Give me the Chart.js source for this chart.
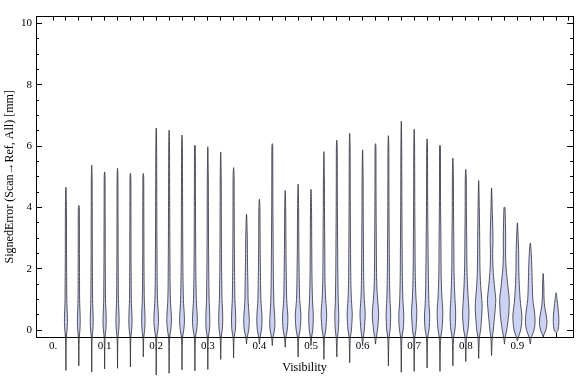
<!DOCTYPE html>
<html>
<head>
<meta charset="utf-8">
<script src="https://cdn.jsdelivr.net/npm/chart.js@4/dist/chart.umd.min.js"></script>
<style>
  body { margin: 0; background: #fff; }
</style>
</head>
<body>
<canvas id="violinChart" width="576" height="377"></canvas>
<script>
// one violin per visibility bin
const visibility = [0.025, 0.05, 0.075, 0.1, 0.125, 0.15, 0.175, 0.2, 0.225, 0.25,
  0.275, 0.3, 0.325, 0.35, 0.375, 0.4, 0.425, 0.45, 0.475, 0.5,
  0.525, 0.55, 0.575, 0.6, 0.625, 0.65, 0.675, 0.7, 0.725, 0.75,
  0.775, 0.8, 0.825, 0.85, 0.875, 0.9, 0.925, 0.95, 0.975];

const errorMax = [4.66, 4.07, 5.38, 5.16, 5.28, 5.12, 5.11, 6.59, 6.52, 6.36,
  6.03, 5.98, 5.81, 5.30, 3.78, 4.27, 6.08, 4.55, 4.76, 4.59,
  5.82, 6.19, 6.42, 5.88, 6.08, 6.34, 6.81, 6.55, 6.24, 6.03,
  5.61, 5.24, 4.88, 4.64, 4.01, 3.50, 2.84, 1.85, 1.22];

const errorMin = [-1.31, -1.16, -1.36, -1.26, -1.24, -1.20, -0.87, -1.46, -1.40, -1.29,
  -1.32, -1.28, -0.95, -0.90, -0.45, -0.45, -0.50, -0.55, -0.87, -0.50,
  -0.95, -0.87, -1.06, -0.50, -0.45, -1.16, -1.37, -1.34, -1.23, -1.34,
  -1.16, -1.02, -0.92, -0.82, -0.45, -0.35, -0.45, -0.20, -0.08];

// density (violin half width) read at these error levels
const densityLevels = [-0.25, 0, 0.25, 0.5, 0.75, 1, 1.5, 2, 2.5, 3, 4, 5, 6];
const density = [
  [0.4, 1.1, 1.5, 1.4, 1.1, 0.9, 0.8, 0.7, 0.6, 0.6, 0.5, 0.4, 0.3],
  [0.4, 1.1, 1.4, 1.3, 1.0, 0.8, 0.7, 0.7, 0.6, 0.6, 0.5, 0.4, 0.3],
  [0.4, 1.1, 1.5, 1.4, 1.1, 0.9, 0.8, 0.7, 0.6, 0.6, 0.5, 0.4, 0.3],
  [0.4, 1.2, 1.6, 1.5, 1.2, 0.9, 0.8, 0.7, 0.6, 0.6, 0.5, 0.4, 0.3],
  [0.4, 1.2, 1.6, 1.5, 1.2, 0.9, 0.8, 0.7, 0.6, 0.6, 0.5, 0.4, 0.3],
  [0.4, 1.2, 1.6, 1.5, 1.2, 0.9, 0.8, 0.7, 0.6, 0.6, 0.5, 0.4, 0.3],
  [0.4, 1.3, 1.7, 1.6, 1.3, 1.0, 0.8, 0.7, 0.6, 0.6, 0.5, 0.4, 0.3],
  [0.5, 1.6, 2.3, 2.2, 1.7, 1.3, 1.0, 0.9, 0.8, 0.7, 0.6, 0.5, 0.4],
  [0.5, 1.6, 2.3, 2.2, 1.7, 1.3, 1.0, 0.9, 0.8, 0.7, 0.6, 0.5, 0.4],
  [0.5, 1.7, 2.4, 2.3, 1.8, 1.4, 1.1, 0.9, 0.8, 0.7, 0.6, 0.5, 0.4],
  [0.5, 1.7, 2.4, 2.3, 1.8, 1.4, 1.1, 0.9, 0.8, 0.7, 0.6, 0.5, 0.4],
  [0.5, 1.6, 2.0, 1.9, 1.6, 1.3, 1.1, 0.9, 0.8, 0.7, 0.6, 0.5, 0.4],
  [0.5, 1.5, 2.0, 2.0, 1.7, 1.3, 1.1, 0.9, 0.8, 0.7, 0.6, 0.5, 0.4],
  [0.5, 1.7, 2.1, 2.0, 1.7, 1.3, 1.1, 0.9, 0.8, 0.7, 0.6, 0.5, 0.4],
  [0.6, 2.2, 2.8, 2.6, 2.0, 1.6, 1.4, 1.1, 0.9, 0.8, 0.5, 0.4, 0.3],
  [0.6, 2.0, 2.6, 2.5, 2.0, 1.5, 1.2, 1.0, 0.8, 0.7, 0.5, 0.4, 0.3],
  [0.6, 2.2, 2.6, 2.3, 1.8, 1.5, 1.2, 1.0, 0.9, 0.8, 0.6, 0.5, 0.4],
  [0.6, 2.0, 2.6, 2.6, 2.0, 1.5, 1.2, 1.0, 0.8, 0.7, 0.5, 0.4, 0.3],
  [0.6, 1.9, 2.6, 2.8, 2.2, 1.6, 1.2, 1.0, 0.8, 0.7, 0.5, 0.4, 0.3],
  [0.6, 1.7, 2.2, 2.3, 1.9, 1.5, 1.1, 0.9, 0.8, 0.7, 0.5, 0.4, 0.3],
  [0.6, 1.8, 2.4, 2.8, 2.4, 1.8, 1.2, 1.0, 0.9, 0.8, 0.6, 0.5, 0.4],
  [0.6, 1.5, 1.9, 2.0, 1.7, 1.4, 1.2, 1.0, 0.9, 0.8, 0.6, 0.5, 0.4],
  [0.6, 1.7, 2.2, 2.6, 2.2, 1.7, 1.2, 1.0, 0.9, 0.8, 0.6, 0.5, 0.4],
  [0.6, 1.7, 2.2, 2.6, 2.3, 1.7, 1.2, 1.0, 0.9, 0.8, 0.6, 0.5, 0.4],
  [0.7, 2.0, 2.7, 3.2, 2.8, 2.1, 1.3, 1.0, 0.9, 0.8, 0.6, 0.5, 0.4],
  [0.6, 1.7, 2.1, 2.3, 2.0, 1.6, 1.2, 1.0, 0.9, 0.8, 0.6, 0.5, 0.4],
  [0.6, 1.8, 2.4, 2.5, 2.0, 1.6, 1.2, 1.0, 0.9, 0.8, 0.6, 0.5, 0.4],
  [0.6, 1.7, 2.2, 2.6, 2.5, 1.9, 1.3, 1.0, 0.9, 0.8, 0.6, 0.5, 0.4],
  [0.6, 1.9, 2.5, 2.6, 2.1, 1.7, 1.4, 1.2, 1.0, 0.9, 0.6, 0.5, 0.4],
  [0.7, 1.9, 2.5, 2.8, 2.7, 2.1, 1.4, 1.1, 1.0, 0.9, 0.6, 0.5, 0.4],
  [0.7, 2.0, 2.6, 2.8, 2.6, 2.1, 1.5, 1.1, 1.0, 0.9, 0.6, 0.5, 0.4],
  [0.7, 2.1, 2.8, 3.2, 3.0, 2.5, 1.7, 1.2, 1.0, 0.9, 0.6, 0.5, 0.4],
  [0.7, 1.9, 2.6, 3.1, 3.5, 3.1, 1.9, 1.3, 1.1, 1.0, 0.6, 0.5, 0.4],
  [0.7, 1.7, 2.4, 3.1, 3.8, 4.2, 2.7, 1.5, 1.1, 1.4, 0.6, 0.4, 0.3],
  [0.7, 2.2, 3.3, 4.2, 4.6, 4.8, 3.2, 1.7, 1.1, 1.2, 0.5, 0.4, 0.3],
  [0.8, 3.3, 4.3, 4.5, 3.6, 2.8, 1.9, 1.4, 1.3, 0.8, 0.5, 0.4, 0.3],
  [0.9, 3.8, 4.8, 4.5, 3.6, 2.6, 2.0, 1.6, 1.0, 0.7, 0.5, 0.4, 0.3],
  [0.6, 2.6, 3.8, 3.0, 1.6, 0.9, 0.6, 0.5, 0.4, 0.3, 0.3, 0.3, 0.3],
  [0.5, 1.9, 2.8, 2.6, 1.9, 1.0, 0.6, 0.5, 0.4, 0.3, 0.3, 0.3, 0.3]
];

const xTickLabels = ['0.', '0.1', '0.2', '0.3', '0.4', '0.5', '0.6', '0.7', '0.8', '0.9'];

const DENSITY_TO_X = 0.00193; // density unit -> visibility units

const datasets = visibility.map((v, i) => {
  const left = [];
  const right = [];
  densityLevels.forEach((lv, j) => {
    if (lv > errorMin[i] && lv < errorMax[i]) {
      const w = density[i][j] * DENSITY_TO_X;
      left.push({x: v - w, y: lv});
      right.unshift({x: v + w, y: lv});
    }
  });
  return {
    data: [{x: v, y: errorMin[i]}, ...left, {x: v, y: errorMax[i]}, ...right, {x: v, y: errorMin[i]}],
    borderColor: 'rgba(45, 45, 55, 0.8)',
    borderWidth: 1,
    borderJoinStyle: 'round',
    backgroundColor: 'rgb(204, 210, 244)',
    fill: 'shape',
    pointRadius: 0,
    tension: 0.3,
    capBezierPoints: false,
    clip: false
  };
});

const keepUnitTicks = s => { s.ticks = s.ticks.filter(t => t.value >= 0 && t.value <= 1); };

Chart.defaults.font.family = "'Liberation Serif', 'DejaVu Serif', serif";
Chart.defaults.color = '#000';

new Chart(document.getElementById('violinChart'), {
  type: 'line',
  data: { datasets: datasets },
  options: {
    responsive: false,
    animation: false,
    events: [],
    layout: { padding: { top: 4, right: 1, bottom: 0, left: 0 } },
    plugins: { legend: { display: false }, tooltip: { enabled: false } },
    scales: {
      x: {
        type: 'linear', position: 'bottom', min: -0.033, max: 1.008,
        afterFit: s => { s.height = 40; },
        afterBuildTicks: keepUnitTicks,
        ticks: {
          stepSize: 0.025, autoSkip: false, maxRotation: 0, includeBounds: false,
          padding: 7, font: { size: 11 },
          callback: v => {
            const n = Math.round(v * 1000);
            return n % 100 === 0 ? (xTickLabels[n / 100] || '') : '';
          }
        },
        grid: {
          drawOnChartArea: false, tickLength: -4,
          color: ctx => (ctx.tick && (ctx.tick.value <= 0 || ctx.tick.value >= 1)) ? 'rgba(0,0,0,0)' : '#000'
        },
        border: { display: true, color: '#000' },
        title: { display: true, text: 'Visibility', font: { size: 12 }, padding: { top: 0, bottom: 2 } }
      },
      xTop: {
        type: 'linear', position: 'top', min: -0.033, max: 1.008,
        afterFit: s => { s.height = 0; },
        afterBuildTicks: keepUnitTicks,
        ticks: { stepSize: 0.025, autoSkip: false, display: false, includeBounds: false },
        grid: { drawOnChartArea: false, tickLength: -4, color: '#000' },
        border: { display: true, color: '#000' }
      },
      y: {
        position: 'left', min: -0.22, max: 10.22, weight: 1,
        afterFit: s => { s.width = 36; },
        ticks: { stepSize: 2, includeBounds: false, padding: 10, font: { size: 11 } },
        grid: { drawOnChartArea: false, tickLength: -6, color: '#000' },
        border: { display: true, color: '#000' },
        title: { display: true, text: 'SignedError (Scan\u2192Ref, All) [mm]', font: { size: 12 }, padding: { top: 3, bottom: 0 } }
      },
      yMinor: {
        position: 'left', min: -0.22, max: 10.22, weight: 0,
        afterFit: s => { s.width = 0; },
        ticks: { stepSize: 0.5, includeBounds: false, display: false },
        grid: { drawOnChartArea: false, tickLength: -3, color: '#000' },
        border: { display: false }
      },
      yRight: {
        position: 'right', min: -0.22, max: 10.22, weight: 0,
        afterFit: s => { s.width = 0; },
        ticks: { stepSize: 2, includeBounds: false, display: false },
        grid: { drawOnChartArea: false, tickLength: -6, color: '#000' },
        border: { display: true, color: '#000' }
      },
      yRightMinor: {
        position: 'right', min: -0.22, max: 10.22, weight: 1,
        afterFit: s => { s.width = 0; },
        ticks: { stepSize: 0.5, includeBounds: false, display: false },
        grid: { drawOnChartArea: false, tickLength: -3, color: '#000' },
        border: { display: false }
      }
    }
  }
});
</script>
</body>
</html>
